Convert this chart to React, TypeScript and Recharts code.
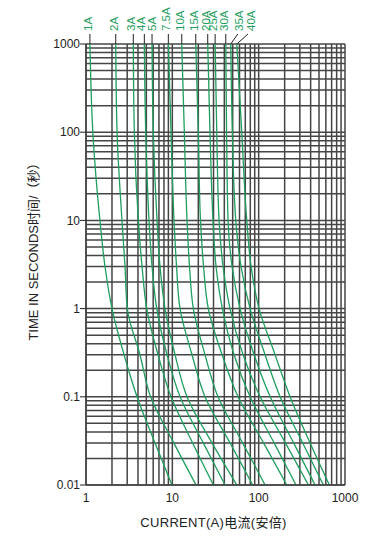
import { LineChart, Line, XAxis, YAxis, CartesianGrid, Label } from 'recharts'

const FONT = "'Liberation Sans', Arial, 'Noto Sans CJK SC', sans-serif"
const GREEN = '#1f9e5e'
const GRID = '#454545'

const TIMES = [1000, 100, 10, 3, 1, 0.3, 0.1, 0.03, 0.01]

const RATINGS = ['1A', '2A', '3A', '4A', '5A', '7.5A', '10A', '15A', '20A', '25A', '30A', '35A', '40A']

// current (A) at each of TIMES
const I_1A = [1.11, 1.2, 1.45, 1.66, 2.0, 2.76, 3.9, 6.3, 9.9]
const I_2A = [2.21, 2.29, 2.61, 2.83, 3.01, 4.22, 5.6, 10.4, 18.8]
const I_3A = [3.53, 3.63, 4.04, 4.46, 5.05, 6.83, 9.66, 17.2, 29.9]
const I_4A = [4.74, 4.92, 5.37, 5.82, 6.6, 8.68, 12.3, 22.8, 40.8]
const I_5A = [5.82, 6.02, 6.65, 7.2, 8.23, 10.75, 14.8, 28.8, 55.8]
const I_7_5A = [8.99, 9.66, 10.46, 11.19, 12.28, 16.9, 23.9, 46.6, 85.4]
const I_10A = [12.85, 13.77, 14.8, 15.82, 17.51, 23.9, 33.8, 65.2, 118.7]
const I_15A = [18.67, 20.0, 21.2, 23.0, 26.1, 37.7, 57.7, 114, 212]
const I_20A = [25.7, 27.3, 29.6, 32.1, 38.0, 51.9, 79.5, 151, 271]
const I_25A = [31.3, 32.7, 34.8, 38.7, 46.6, 66.0, 104, 204, 377]
const I_30A = [41.6, 42.5, 44.2, 49.2, 60.9, 88.5, 136, 254, 450]
const I_35A = [47.5, 49.6, 54.3, 62.5, 79.5, 118.7, 177, 324, 562]
const I_40A = [55.8, 63.7, 72.8, 81.7, 101, 155, 231, 394, 660]

const CURRENTS = [I_1A, I_2A, I_3A, I_4A, I_5A, I_7_5A, I_10A, I_15A, I_20A, I_25A, I_30A, I_35A, I_40A]

const X_TICKS = [
  1, 2, 3, 4, 5, 6, 7, 8, 9,
  10, 20, 30, 40, 50, 60, 70, 80, 90,
  100, 200, 300, 400, 500, 600, 700, 800, 900,
  1000,
]
const Y_TICKS = [
  0.01, 0.02, 0.03, 0.04, 0.05, 0.06, 0.07, 0.08, 0.09,
  0.1, 0.2, 0.3, 0.4, 0.5, 0.6, 0.7, 0.8, 0.9,
  1, 2, 3, 4, 5, 6, 7, 8, 9,
  10, 20, 30, 40, 50, 60, 70, 80, 90,
  100, 200, 300, 400, 500, 600, 700, 800, 900,
  1000,
]
const X_LABELS = [1, 10, 100, 1000]
const Y_LABELS = [0.01, 0.1, 1, 10, 100, 1000]

const series = RATINGS.map((name, k) => ({
  name,
  data: TIMES.map((t, j) => ({ i: CURRENTS[k][j], t })),
}))

// top end of every curve, used for the rating labels above the plot
const TOP_TICKS = CURRENTS.map((c) => c[0])
const topData = TOP_TICKS.map((i) => ({ i, t: TIMES[0] }))

// small sideways nudges of the rating labels; 35A/40A get a slanted leader
const LABEL_SHIFT: Record<string, number> = { '4A': -1.5, '5A': 1.5, '35A': 10, '40A': 16 }
const LEADER = ['35A', '40A']

function TopTick(props: any) {
  const { x, y, payload } = props
  const idx = TOP_TICKS.indexOf(payload.value)
  if (idx < 0) return null
  const name = RATINGS[idx]
  const dx = LABEL_SHIFT[name] ?? 0
  const lean = LEADER.includes(name) ? dx * 0.7 : 0
  const lx = x + dx + 2
  return (
    <g>
      <line x1={x} y1={y + 8} x2={x + lean} y2={y - 2} stroke="#222" strokeWidth={1} />
      <text
        transform={`translate(${lx},${y - 5}) rotate(-90)`}
        fill={GREEN}
        fontSize={11.5}
        fontFamily={FONT}
        textAnchor="start"
      >
        {name}
      </text>
    </g>
  )
}

function LeftTick(props: any) {
  const { x, y, payload } = props
  if (!Y_LABELS.includes(payload.value)) return null
  return (
    <g>
      <line x1={x + 1} y1={y} x2={x + 7} y2={y} stroke="#222" strokeWidth={1} />
      <text x={x + 1} y={y} dy="0.35em" textAnchor="end" fontSize={12} fontFamily={FONT} fill="#222">
        {payload.value}
      </text>
    </g>
  )
}

function BottomTick(props: any) {
  const { x, y, payload } = props
  if (!X_LABELS.includes(payload.value)) return null
  return (
    <text x={x} y={y} dy="0.71em" textAnchor="middle" fontSize={12} fontFamily={FONT} fill="#222">
      {payload.value}
    </text>
  )
}

const renderYTitle = (props: any) => {
  const { x, y, height } = props.viewBox
  const cx = x + 33
  const cy = y + height / 2 - 16
  return (
    <text
      x={cx}
      y={cy}
      transform={`rotate(-90 ${cx} ${cy})`}
      textAnchor="middle"
      dominantBaseline="central"
      fontSize={13}
      fontFamily={FONT}
      fill="#222"
    >
      TIME IN SECONDS时间/（秒）
    </text>
  )
}

const renderXTitle = (props: any) => {
  const { x, y, width } = props.viewBox
  return (
    <text
      x={x + width / 2 - 2}
      y={y + 42}
      textAnchor="middle"
      fontSize={13}
      letterSpacing={0.3}
      fontFamily={FONT}
      fill="#222"
    >
      CURRENT(A)电流(安倍)
    </text>
  )
}

export default function App() {
  return (
    <div style={{ position: 'absolute', left: 0, top: 0, background: '#fff' }}>
      <LineChart width={385} height={540} margin={{ top: 0, right: 40, bottom: 0, left: 0 }}>
        <CartesianGrid stroke={GRID} strokeWidth={1.5} />
        <XAxis
          dataKey="i"
          type="number"
          scale="log"
          domain={[1, 1000]}
          allowDataOverflow
          ticks={X_TICKS}
          interval={0}
          height={55}
          tickLine={false}
          axisLine={{ stroke: GRID, strokeWidth: 1.5 }}
          tick={<BottomTick />}
        >
          <Label content={renderXTitle} />
        </XAxis>
        <XAxis
          xAxisId="top"
          dataKey="i"
          orientation="top"
          type="number"
          scale="log"
          domain={[1, 1000]}
          allowDataOverflow
          ticks={TOP_TICKS}
          interval={0}
          height={44}
          tickLine={false}
          axisLine={false}
          tick={<TopTick />}
        />
        <YAxis
          dataKey="t"
          type="number"
          scale="log"
          domain={[0.01, 1000]}
          allowDataOverflow
          ticks={Y_TICKS}
          interval={0}
          width={86}
          tickSize={6}
          tickMargin={1}
          tickLine={false}
          axisLine={{ stroke: GRID, strokeWidth: 1.5 }}
          tick={<LeftTick />}
        >
          <Label content={renderYTitle} />
        </YAxis>
        {series.map((s) => (
          <Line
            key={s.name}
            data={s.data}
            dataKey="t"
            type="monotoneY"
            stroke={GREEN}
            strokeWidth={1.3}
            dot={false}
            isAnimationActive={false}
          />
        ))}
        <Line
          xAxisId="top"
          data={topData}
          dataKey="t"
          stroke="none"
          dot={false}
          activeDot={false}
          legendType="none"
          isAnimationActive={false}
        />
      </LineChart>
    </div>
  )
}
